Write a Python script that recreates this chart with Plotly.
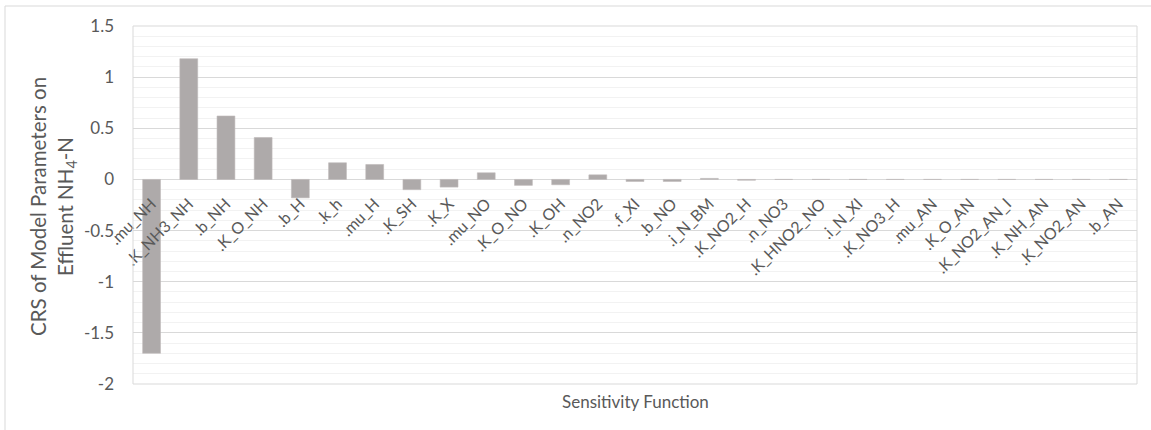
import plotly.graph_objects as go

# Sensitivity functions (categories) and their CRS on effluent NH4-N
params = [".mu_NH", ".K_NH3_NH", ".b_NH", ".K_O_NH", ".b_H", ".k_h", ".mu_H",
          ".K_SH", ".K_X", ".mu_NO", ".K_O_NO", ".K_OH", ".n_NO2", ".f_XI",
          ".b_NO", ".i_N_BM", ".K_NO2_H", ".n_NO3", ".K_HNO2_NO", ".i_N_XI",
          ".K_NO3_H", ".mu_AN", ".K_O_AN", ".K_NO2_AN_I", ".K_NH_AN",
          ".K_NO2_AN", ".b_AN"]
crs = [-1.70, 1.18, 0.62, 0.41, -0.18, 0.163, 0.146,
       -0.10, -0.075, 0.065, -0.058, -0.052, 0.045, -0.02,
       -0.02, 0.01, -0.008, 0.0, 0.0, 0.0,
       0.0, 0.0, 0.0, 0.0, 0.0,
       0.0, 0.0]

y_min, y_max = -2.0, 1.5
y_ticks = [-2, -1.5, -1, -0.5, 0, 0.5, 1, 1.5]
y_tick_text = ["-2", "-1.5", "-1", "-0.5", "0", "0.5", "1", "1.5"]

W, H = 1151, 430
L, R, T, B = 133, 14, 26, 46
FONT = "Lato"
TXT = "#595959"

fig = go.Figure(go.Bar(
    x=params, y=crs,
    marker=dict(color="#AEAAAA", line=dict(color="#BFBBBB", width=0.6)),
))

pw, ph = W - L - R, H - T - B
zero_pos = (0 - y_min) / (y_max - y_min)

fig.update_layout(
    width=W, height=H,
    margin=dict(l=L, r=R, t=T, b=B),
    paper_bgcolor="white", plot_bgcolor="white",
    bargap=0.52,
    showlegend=False,
    font=dict(family=FONT, color=TXT),
    xaxis=dict(
        type="category", range=[-0.5, len(params) - 0.5],
        anchor="free", position=zero_pos,
        showgrid=False, showline=False, zeroline=False,
        tickangle=-45, tickfont=dict(size=16, color=TXT),
        ticks="", ticklabelstandoff=11,
    ),
    yaxis=dict(
        range=[y_min, y_max],
        tickvals=y_ticks, ticktext=y_tick_text,
        showgrid=True, gridcolor="#D9D9D9", gridwidth=1,
        minor=dict(dtick=0.1, showgrid=True, gridcolor="#F2F2F2", gridwidth=1),
        zeroline=False, showline=False,
        ticks="", ticklabelstandoff=18,
        tickfont=dict(size=17, color=TXT),
    ),
    shapes=[
        # plot-area frame
        dict(type="rect", xref="paper", yref="paper", x0=0, x1=1, y0=0, y1=1,
             line=dict(color="#D9D9D9", width=1), layer="above"),
        # outer chart frame (top and left edges)
        dict(type="line", xref="paper", yref="paper",
             x0=(5 - L) / pw, x1=(W - L) / pw,
             y0=(H - B - 6) / ph, y1=(H - B - 6) / ph,
             line=dict(color="#D9D9D9", width=1)),
        dict(type="line", xref="paper", yref="paper",
             x0=(5 - L) / pw, x1=(5 - L) / pw,
             y0=(H - B - 6) / ph, y1=(H - B - 430) / ph,
             line=dict(color="#D9D9D9", width=1)),
    ],
    annotations=[
        dict(text="CRS of Model Parameters on<br>Effluent NH<sub>4</sub>-N",
             xref="paper", yref="paper",
             x=(53 - L) / pw, y=(H - B - 207) / ph,
             textangle=-90, showarrow=False,
             font=dict(size=20.5, color=TXT, family=FONT),
             xanchor="center", yanchor="middle"),
        dict(text="Sensitivity Function", xref="paper", yref="paper",
             x=0.5, y=(H - B - 401) / ph, showarrow=False,
             font=dict(size=17, color=TXT, family=FONT),
             xanchor="center", yanchor="middle"),
    ],
)

fig.write_html("out.html")
